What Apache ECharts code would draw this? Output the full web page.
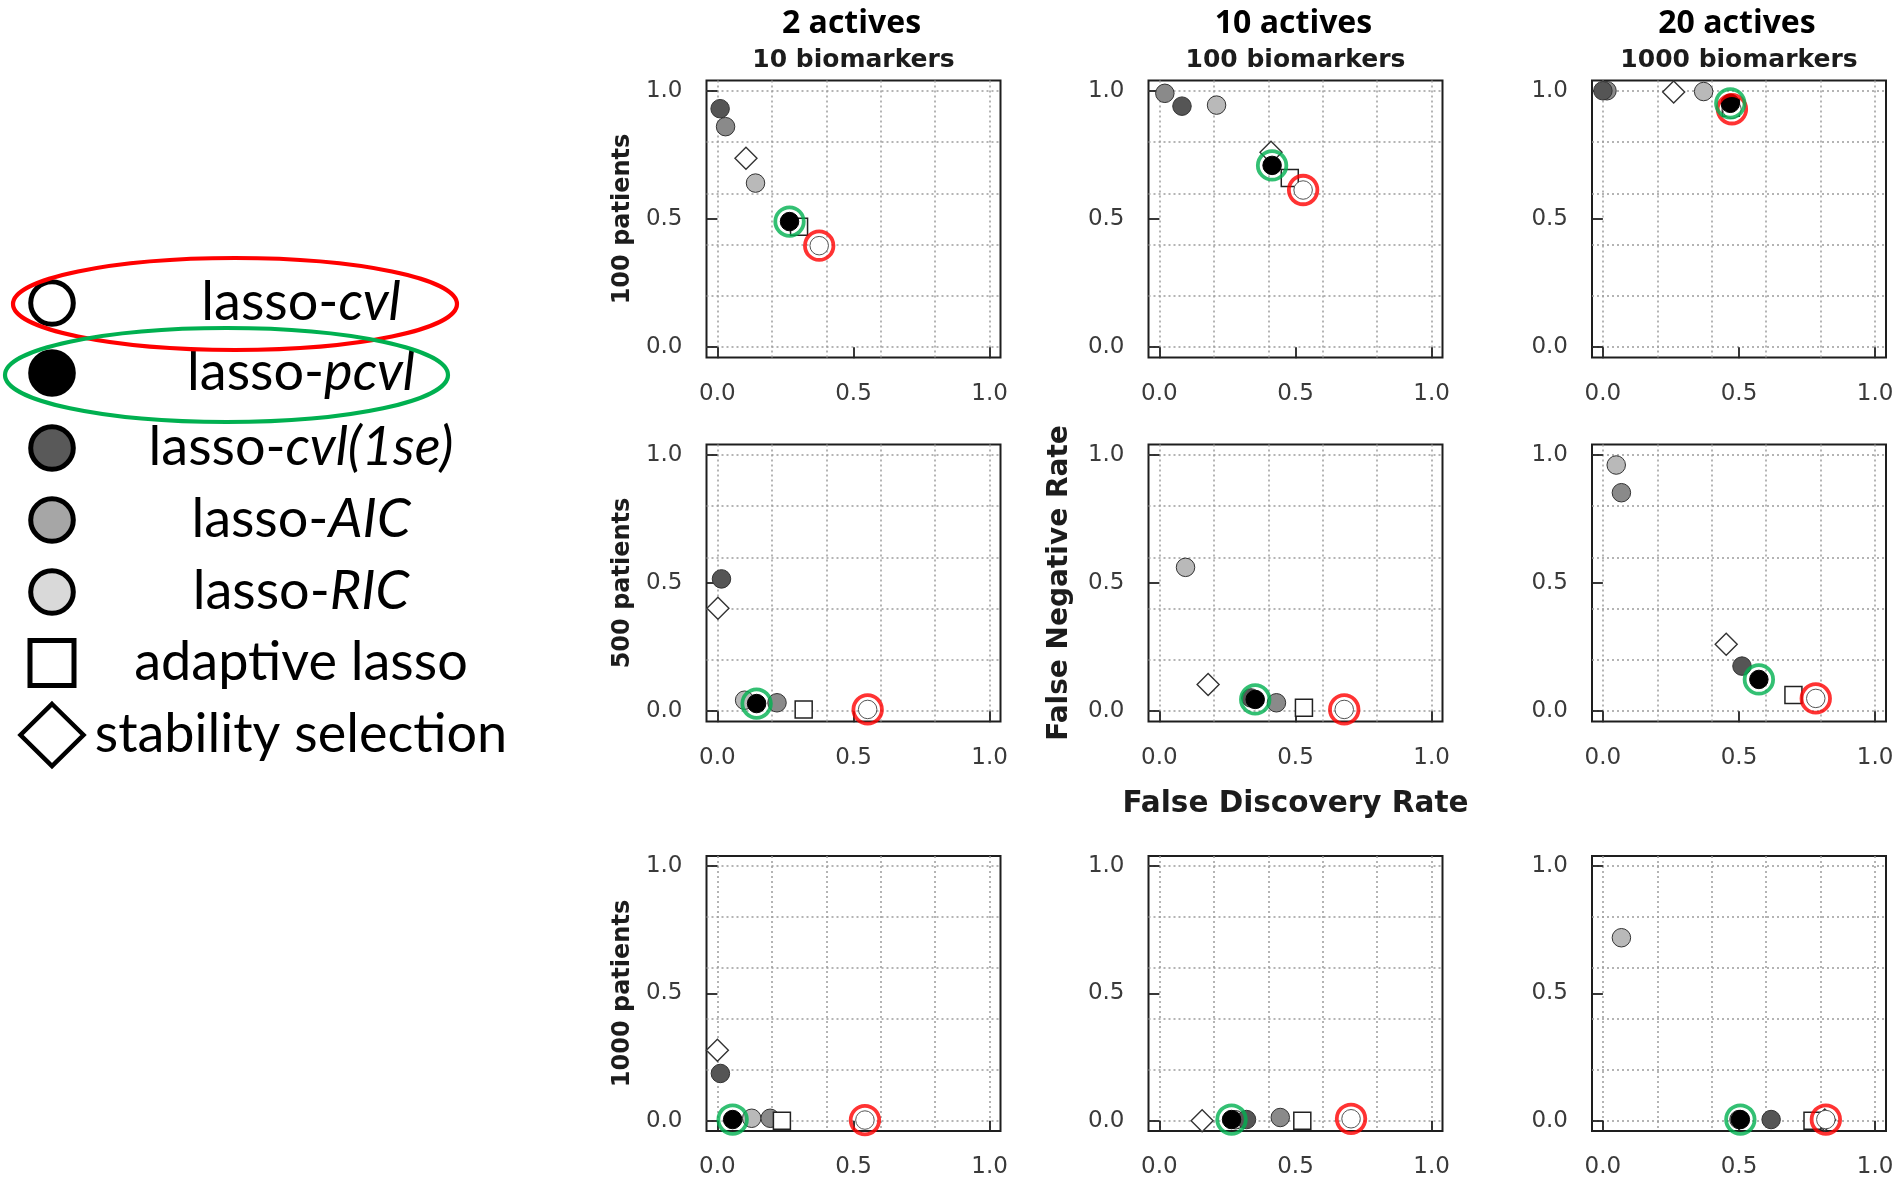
<!DOCTYPE html>
<html>
<head>
<meta charset="utf-8">
<script src="https://cdn.jsdelivr.net/npm/echarts@6/dist/echarts.min.js"></script>
<style>
  html, body { margin: 0; padding: 0; background: #ffffff; }
  #chart { width: 1897px; height: 1179px; }
</style>
</head>
<body>
<div id="chart"></div>
<script>
// Column / row headings of the 3x3 panel grid
const colTitles = ['2 actives', '10 actives', '20 actives'];
const colSubtitles = ['10 biomarkers', '100 biomarkers', '1000 biomarkers'];
const rowTitles = ['100 patients', '500 patients', '1000 patients'];
const xAxisTitle = 'False Discovery Rate';
const yAxisTitle = 'False Negative Rate';

// Axis ticks and dotted reference grid
const tickValues = [0, 0.5, 1];
const gridValues = [0, 0.2, 0.4, 0.6, 0.8, 1];

// [FDR, FNR] per panel, row by row (100, 500, 1000 patients),
// left to right (2/10, 10/100, 20/1000 actives/biomarkers)
const lassoCvl = [
  [0.374, 0.396], [0.528, 0.613], [0.474, 0.928],
  [0.552, 0.007], [0.679, 0.007], [0.782, 0.050],
  [0.542, 0.003], [0.704, 0.008], [0.819, 0.005]
];
const lassoPcvl = [
  [0.265, 0.490], [0.414, 0.709], [0.468, 0.951],
  [0.144, 0.030], [0.352, 0.046], [0.573, 0.124],
  [0.056, 0.005], [0.265, 0.005], [0.505, 0.005]
];
const lassoCvl1se = [
  [0.010, 0.930], [0.083, 0.940], [0.000, 1.000],
  [0.015, 0.516], [0.336, 0.052], [0.511, 0.176],
  [0.011, 0.186], [0.320, 0.005], [0.618, 0.005]
];
const lassoAIC = [
  [0.030, 0.860], [0.020, 0.990], [0.015, 1.000],
  [0.219, 0.033], [0.430, 0.033], [0.068, 0.852],
  [0.194, 0.010], [0.444, 0.013], [0.500, 0.005]
];
const lassoRIC = [
  [0.140, 0.640], [0.210, 0.944], [0.370, 0.997],
  [0.100, 0.043], [0.096, 0.561], [0.049, 0.960],
  [0.126, 0.010], [0.280, 0.004], [0.068, 0.719]
];
const adaptiveLasso = [
  [0.300, 0.470], [0.479, 0.660], [0.470, 0.934],
  [0.317, 0.007], [0.531, 0.014], [0.700, 0.063],
  [0.237, 0.000], [0.525, 0.000], [0.770, 0.000]
];
const stabilitySelection = [
  [0.105, 0.737], [0.410, 0.760], [0.260, 0.995],
  [0.002, 0.402], [0.179, 0.104], [0.453, 0.261],
  [0.000, 0.277], [0.157, 0.000], [0.815, 0.003]
];

// Legend entries: plain part + italic part
const legendLabels = [
  ['lasso-', 'cvl'], ['lasso-', 'pcvl'], ['lasso-', 'cvl(1se)'],
  ['lasso-', 'AIC'], ['lasso-', 'RIC'], ['adaptive lasso', ''], ['stability selection', '']
];

// ---------- layout ----------
const panelLeft = [706.5, 1148.5, 1592];
const panelTop = [80.5, 444.5, 856];
const panelW = 294;
const panelH = [277, 277, 275];
const AX_MIN = -0.04, AX_MAX = 1.04;

const tickFont = 'DejaVu Sans';
const OUTLINE = '#333333';

// drawing order: later methods sit on top
const methods = [
  { data: stabilitySelection, symbol: 'diamond', size: 22, fill: '#ffffff', border: '#333333', bw: 1.4 },
  { data: lassoRIC, symbol: 'circle', size: 18.5, fill: '#b9b9b9', border: OUTLINE, bw: 1 },
  { data: lassoAIC, symbol: 'circle', size: 18.5, fill: '#8a8a8a', border: OUTLINE, bw: 1 },
  { data: lassoCvl1se, symbol: 'circle', size: 18.5, fill: '#555555', border: OUTLINE, bw: 1 },
  { data: adaptiveLasso, symbol: 'rect', size: 17, fill: '#ffffff', border: '#222222', bw: 1.5 },
  { data: lassoCvl, symbol: 'circle', size: 18.5, fill: '#ffffff', border: '#555555', bw: 1 },
  { data: lassoPcvl, symbol: 'circle', size: 18.5, fill: '#000000', border: '#000000', bw: 1 }
];

const grids = [], xAxes = [], yAxes = [], series = [];

for (let r = 0; r < 3; r++) {
  for (let c = 0; c < 3; c++) {
    const p = r * 3 + c;
    grids.push({
      left: panelLeft[c], top: panelTop[r], width: panelW, height: panelH[r],
      show: true, borderColor: '#1e1e1e', borderWidth: 2, backgroundColor: 'transparent'
    });
    // labelled axes with ticks at 0, 0.5, 1
    xAxes.push({
      gridIndex: p, type: 'value', min: AX_MIN, max: AX_MAX, position: 'bottom',
      axisLine: { show: false },
      axisTick: { show: true, customValues: tickValues, length: 11, lineStyle: { color: '#222', width: 1.8 } },
      axisLabel: { customValues: tickValues, formatter: v => v.toFixed(1), fontFamily: tickFont, fontSize: 23, color: '#3a3a3a', margin: 25 },
      splitLine: { show: false }
    });
    yAxes.push({
      gridIndex: p, type: 'value', min: AX_MIN, max: AX_MAX, position: 'left',
      axisLine: { show: false },
      axisTick: { show: true, customValues: tickValues, length: 11, lineStyle: { color: '#222', width: 1.8 } },
      axisLabel: { customValues: tickValues, formatter: v => v.toFixed(1), fontFamily: tickFont, fontSize: 23, color: '#3a3a3a', margin: 24 },
      splitLine: { show: false }
    });
    // unlabelled axes carrying the dotted grid at 0.2 steps
    xAxes.push({
      gridIndex: p, type: 'value', min: AX_MIN, max: AX_MAX, position: 'top',
      axisLine: { show: false }, axisLabel: { show: false },
      axisTick: { show: false, customValues: gridValues },
      splitLine: { show: true, lineStyle: { color: '#9c9c9c', width: 1.5, type: [2, 3] } }
    });
    yAxes.push({
      gridIndex: p, type: 'value', min: AX_MIN, max: AX_MAX, position: 'right',
      axisLine: { show: false }, axisLabel: { show: false },
      axisTick: { show: false, customValues: gridValues },
      splitLine: { show: true, lineStyle: { color: '#9c9c9c', width: 1.5, type: [2, 3] } }
    });

    const xi = p * 2, yi = p * 2;
    methods.forEach((m, k) => {
      series.push({
        type: 'scatter', xAxisIndex: xi, yAxisIndex: yi, silent: true, z: 3 + k * 0.01,
        symbol: m.symbol, symbolSize: m.size,
        itemStyle: { color: m.fill, borderColor: m.border, borderWidth: m.bw, opacity: 1 },
        data: [m.data[p]]
      });
    });
    // highlight rings around lasso-cvl (red) and lasso-pcvl (green)
    series.push({
      type: 'scatter', xAxisIndex: xi, yAxisIndex: yi, silent: true, z: 4,
      symbol: 'circle', symbolSize: 28.5,
      itemStyle: { color: 'rgba(0,0,0,0)', borderColor: '#ff0000', borderWidth: 3.8 },
      data: [lassoCvl[p]]
    });
    series.push({
      type: 'scatter', xAxisIndex: xi, yAxisIndex: yi, silent: true, z: 4.01,
      symbol: 'circle', symbolSize: 28.5,
      itemStyle: { color: 'rgba(0,0,0,0)', borderColor: '#00b050', borderWidth: 3.8 },
      data: [lassoPcvl[p]]
    });
  }
}

// ---------- headings ----------
const graphics = [];
for (let c = 0; c < 3; c++) {
  const cx = panelLeft[c] + panelW / 2;
  graphics.push({
    type: 'text', x: cx - 2, y: 24, z: 10,
    style: { text: colTitles[c], font: 'bold 32px "Open Sans"', fill: '#000', align: 'center', verticalAlign: 'middle' }
  });
  graphics.push({
    type: 'text', x: cx, y: 60, z: 10,
    style: { text: colSubtitles[c], font: 'bold 25px "DejaVu Sans"', fill: '#1c1c1c', align: 'center', verticalAlign: 'middle' }
  });
}
for (let r = 0; r < 3; r++) {
  const cy = panelTop[r] + panelH[r] / 2;
  graphics.push({
    type: 'text', x: 623, y: cy, rotation: Math.PI / 2, z: 10,
    style: { text: rowTitles[r], font: 'bold 24px "DejaVu Sans"', fill: '#1c1c1c', align: 'center', verticalAlign: 'middle' }
  });
}
graphics.push({
  type: 'text', x: 1060, y: panelTop[1] + panelH[1] / 2, rotation: Math.PI / 2, z: 10,
  style: { text: yAxisTitle, font: 'bold 28px "DejaVu Sans"', fill: '#1c1c1c', align: 'center', verticalAlign: 'middle' }
});
graphics.push({
  type: 'text', x: panelLeft[1] + panelW / 2, y: 804, z: 10,
  style: { text: xAxisTitle, font: 'bold 29.5px "DejaVu Sans"', fill: '#1c1c1c', align: 'center', verticalAlign: 'middle' }
});

// ---------- legend ----------
const legendX = 52;          // marker centre
const legendTextX = 301;     // text centre
const legendRowY = [303, 373, 448, 520, 592, 663, 735];
const legendFills = ['#ffffff', '#000000', '#595959', '#a6a6a6', '#d9d9d9'];
const legendFont = 'Lato';
const legendSize = 54;

for (let i = 0; i < 5; i++) {
  graphics.push({
    type: 'circle', z: 10,
    shape: { cx: legendX, cy: legendRowY[i], r: 21.3 },
    style: { fill: legendFills[i], stroke: '#000', lineWidth: 5 }
  });
}
graphics.push({
  type: 'rect', z: 10,
  shape: { x: legendX - 22, y: legendRowY[5] - 22.5, width: 44, height: 45 },
  style: { fill: '#fff', stroke: '#000', lineWidth: 5 }
});
graphics.push({
  type: 'polygon', z: 10,
  shape: { points: [[legendX, legendRowY[6] - 31], [legendX + 31.5, legendRowY[6]], [legendX, legendRowY[6] + 31], [legendX - 31.5, legendRowY[6]]] },
  style: { fill: '#fff', stroke: '#000', lineWidth: 4.5 }
});
legendLabels.forEach((lab, i) => {
  const txt = lab[1] ? '{n|' + lab[0] + '}{i|' + lab[1] + '}' : '{n|' + lab[0] + '}';
  graphics.push({
    type: 'text', x: legendTextX, y: legendRowY[i], z: 10,
    style: {
      text: txt, align: 'center', verticalAlign: 'middle',
      rich: {
        n: { fontFamily: legendFont, fontSize: legendSize, fontStyle: 'normal', fill: '#000', color: '#000' },
        i: { fontFamily: legendFont, fontSize: legendSize, fontStyle: 'italic', fill: '#000', color: '#000' }
      }
    }
  });
});
// red / green callout ellipses
graphics.push({
  type: 'ellipse', z: 11,
  shape: { cx: 235, cy: 304, rx: 222, ry: 46 },
  style: { fill: 'none', stroke: '#ff0000', lineWidth: 4.2 }
});
graphics.push({
  type: 'ellipse', z: 11,
  shape: { cx: 226.5, cy: 375, rx: 221.5, ry: 47 },
  style: { fill: 'none', stroke: '#00b050', lineWidth: 4.2 }
});

const chart = echarts.init(document.getElementById('chart'), null, { renderer: 'canvas' });
chart.setOption({
  backgroundColor: '#ffffff',
  animation: false,
  grid: grids,
  xAxis: xAxes,
  yAxis: yAxes,
  series: series,
  graphic: graphics
});
</script>
</body>
</html>
